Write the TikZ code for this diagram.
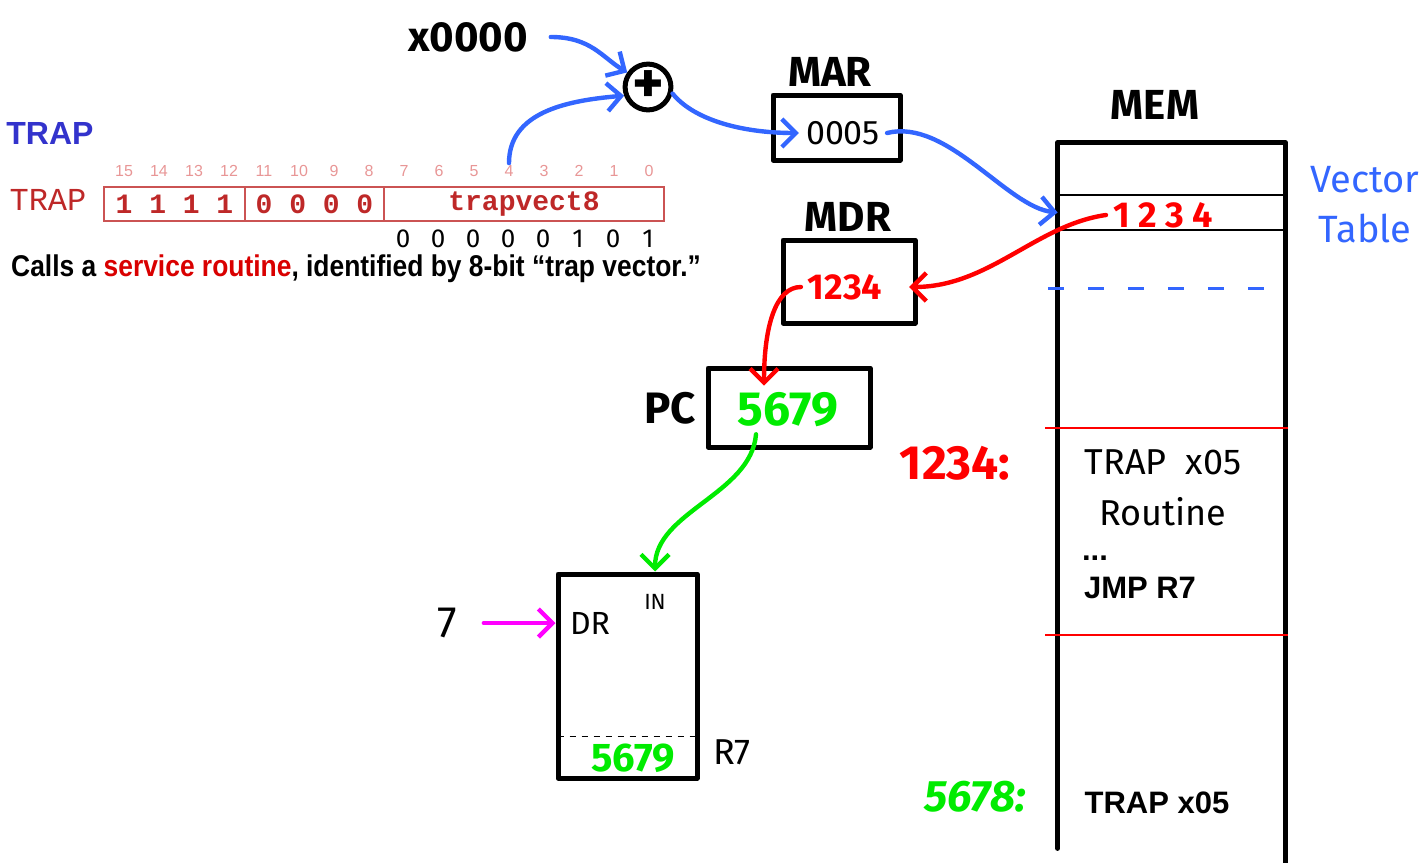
\documentclass[tikz,border=0pt]{standalone}
\usepackage{fontspec}
\setmainfont{Liberation Sans}
\newfontfamily\handfont{Fira Sans}
\newfontfamily\monofont{Liberation Mono}
\usetikzlibrary{arrows.meta}
\definecolor{penblue}{RGB}{51,102,255}
\definecolor{penred}{RGB}{255,0,0}
\definecolor{pengreen}{RGB}{0,235,0}
\definecolor{penpink}{RGB}{255,0,255}
\definecolor{fieldred}{RGB}{190,40,40}
\definecolor{bitred}{RGB}{232,150,150}
\definecolor{titleblue}{RGB}{51,51,204}

\begin{document}
\begin{tikzpicture}[
    x=0.5pt,y=-0.5pt,
    >={Straight Barb[length=7pt,width=14pt]},
    box/.style={
        draw,
        line width=2.5pt,
        line join=round,
        inner sep=0pt
    },
    field/.style={
        draw=fieldred!80,
        line width=0.7pt,
        minimum height=17pt,
        inner sep=0pt,
        text=fieldred,
        font=\monofont\bfseries\fontsize{14}{14}\selectfont
    },
    hand/.style={font=\handfont\fontsize{18}{20}\selectfont},
    handbold/.style={font=\handfont\bfseries\fontsize{21}{24}\selectfont},
    pen/.style={->,line width=2.2pt,line cap=round,line join=round}
]
\useasboundingbox (0,0) rectangle (1422,862);

\node[font=\bfseries\fontsize{16}{16}\selectfont,text=titleblue] (title) at (50,133) {TRAP};
\node[font=\monofont\fontsize{16}{16}\selectfont,text=fieldred] (instname) at (48,200) {TRAP};

\node[field,minimum width=70.5pt] (opc) at (174.5,204) {1 1 1 1};
\node[field,minimum width=69.5pt] (zer) at (314.5,204) {0 0 0 0};
\node[field,minimum width=140pt]  (vec) at (524,204) {trapvect8};

\foreach \i in {0,...,15}
    \node[font=\fontsize{8}{8}\selectfont,text=bitred,inner sep=1pt] (b\i) at ({124+35*(15-\i)},171) {\i};

\foreach \v [count=\k] in {0,0,0,0,0,1,0,1}
    \node[font=\handfont\fontsize{13}{13}\selectfont,inner sep=0pt] (h\k) at ({403+35*(\k-1)},239) {\v};

\node[inner sep=1pt] (caption) at (356,269) {\scalebox{0.88}[1]{\bfseries\fontsize{15}{15}\selectfont
    Calls a \textcolor{red!85!black}{service routine}, identified by 8-bit “trap vector.”}};

\node[handbold] (base) at (468,37) {x0000};
\node[circle,draw,line width=2.5pt,minimum size=22pt,inner sep=0pt,
    font=\handfont\bfseries\fontsize{30}{30}\selectfont] (add) at (648,87) {+};

\node[handbold] (marlbl) at (830,72) {MAR};
\node[box,minimum width=63.5pt,minimum height=32.5pt] (mar) at (836.5,127.5) {};
\node[font=\handfont\fontsize{17}{17}\selectfont] (marval) at (843,133) {0005};

\node[handbold] (mdrlbl) at (848,217) {MDR};
\node[box,minimum width=66pt,minimum height=41.5pt] (mdr) at (849,281.5) {};
\node[font=\handfont\bfseries\fontsize{18}{18}\selectfont,text=penred] (mdrval) at (845,287) {1234};

\node[handbold,font=\handfont\bfseries\fontsize{22}{22}\selectfont] (pclbl) at (670,408) {PC};
\node[box,minimum width=81pt,minimum height=39.5pt] (pc) at (789,407.5) {};
\node[font=\handfont\bfseries\fontsize{24}{24}\selectfont,text=pengreen] (pcval) at (788,410) {5679};

\node[box,minimum width=69.5pt,minimum height=102pt] (reg) at (627.5,676) {};
\node[font=\handfont\fontsize{16}{16}\selectfont] (drlbl) at (590,623) {DR};
\node[font=\handfont\fontsize{11}{11}\selectfont] (inlbl) at (655,602) {IN};
\node[minimum width=69.5pt,minimum height=20.5pt,inner sep=0pt] (r7) at (627.5,757.5) {};
\draw[dashed,line width=0.8pt] (r7.north west) -- (r7.north east);
\node[font=\handfont\bfseries\fontsize{20}{20}\selectfont,text=pengreen] (r7val) at (633,758) {5679};
\node[font=\handfont\fontsize{18}{18}\selectfont] (r7lbl) at (732,752) {R7};
\node[font=\handfont\fontsize{22}{22}\selectfont] (seven) at (447,623) {7};

\node[handbold] (memlbl) at (1155,105) {MEM};
\node[minimum width=113.5pt,minimum height=359.5pt,inner sep=0pt] (mem) at (1171.5,502.5) {};
\draw[line width=2.5pt,line join=round,line cap=round]
    ([yshift=7pt]mem.south west) -- (mem.north west) -- (mem.north east) -- (mem.south east);
\node[minimum width=113.5pt,minimum height=17.5pt,inner sep=0pt] (vrow) at (1171.5,212.5) {};
\draw[line width=1pt] (vrow.north west) -- (vrow.north east) (vrow.south west) -- (vrow.south east);
\node[font=\handfont\bfseries\fontsize{18}{18}\selectfont,text=penred] (vval) at (1163,215) {1 2 3 4};
\draw[penblue,line width=1.5pt,dash pattern=on 8pt off 12pt] (1048,288) -- (1275,288);
\draw[penred,line width=1pt] (1045,428) -- (1288,428) (1045,635) -- (1288,635);
\node[font=\handfont\fontsize{19}{25}\selectfont,text=penblue,align=center] (vtab) at (1365,205) {Vector\\Table};

\node[font=\handfont\bfseries\fontsize{24}{24}\selectfont,text=penred] (addr1) at (955,463) {1234:};
\node[hand] (rt1) at (1163,462) {TRAP\ \ x05};
\node[hand] (rt2) at (1163,512) {Routine};
\node[font=\bfseries\fontsize{15.5}{15.5}\selectfont] (dots) at (1095,558) {...};
\node[font=\bfseries\fontsize{15.5}{15.5}\selectfont] (jmp) at (1140,588) {JMP R7};
\node[font=\handfont\bfseries\itshape\fontsize{22}{22}\selectfont,text=pengreen] (addr2) at (975,797) {5678:};
\node[font=\bfseries\fontsize{15.5}{15.5}\selectfont] (trapx) at (1157,803) {TRAP x05};

\draw[pen,penblue] ([xshift=8pt]base.east) .. controls +(40,0) and +(-25,-15) .. (add.145);
\draw[pen,penblue] (b4.north) .. controls +(0,-50) and +(-60,5) .. (add.200);
\draw[pen,penblue] (add.-15) .. controls +(20,25) and +(-60,0) .. (marval.west);
\draw[pen,penblue] (marval.east) .. controls +(60,-15) and +(-50,-5) .. (vrow.west);
\draw[pen,penred] (vval.west) .. controls +(-70,10) and +(80,0) .. ([xshift=10pt]mdrval.east);
\draw[pen,penred] (mdrval.west) .. controls +(-25,0) and +(0,-60) .. ([xshift=-12pt]pcval.north);
\draw[pen,pengreen] ([xshift=-16pt]pcval.south) .. controls +(-5,60) and +(0,-60) .. (reg.north -| inlbl);
\draw[pen,penpink] ([xshift=10pt]seven.east) -- (reg.west |- drlbl);

\end{tikzpicture}
\end{document}
